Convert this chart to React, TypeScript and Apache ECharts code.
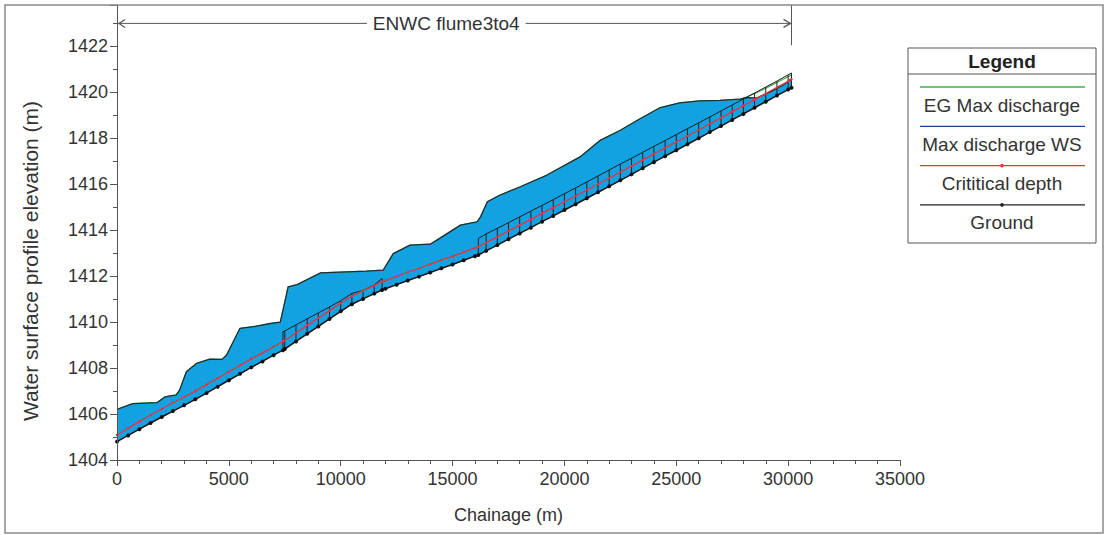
import React, { useEffect, useRef } from "react";
import * as echarts from "echarts";

// ---------- data ----------
const GROUND_X = [
  0, 500, 1000, 1500, 2000, 2500, 3000, 3500, 4000, 4500, 5000, 5500, 6000, 6500, 7000, 7420,
  7500, 8000, 8500, 9000, 9500, 10000, 10500, 11000, 11500, 11850, 12000, 12500, 13000, 13500,
  14000, 14500, 15000, 15500, 16000, 16150, 16500, 17000, 17500, 18000, 18500, 19000, 19500,
  20000, 20500, 21000, 21500, 22000, 22500, 23000, 23500, 24000, 24500, 25000, 25500, 26000,
  26500, 27000, 27500, 28000, 28500, 29000, 29500, 30000, 30150,
];
const GROUND_Y = [
  1404.8, 1405.07, 1405.34, 1405.61, 1405.87, 1406.13, 1406.38, 1406.64, 1406.91, 1407.19,
  1407.47, 1407.75, 1408.03, 1408.29, 1408.56, 1408.78, 1408.83, 1409.16, 1409.49, 1409.81,
  1410.14, 1410.47, 1410.78, 1411.01, 1411.24, 1411.4, 1411.45, 1411.63, 1411.81, 1411.98,
  1412.16, 1412.34, 1412.51, 1412.69, 1412.87, 1412.92, 1413.1, 1413.35, 1413.61, 1413.86,
  1414.11, 1414.37, 1414.62, 1414.88, 1415.13, 1415.39, 1415.65, 1415.91, 1416.17, 1416.43,
  1416.7, 1416.96, 1417.22, 1417.48, 1417.74, 1418.0, 1418.27, 1418.53, 1418.8, 1419.06,
  1419.33, 1419.59, 1419.86, 1420.12, 1420.2,
];
const CRIT_Y = [
  1405.09, 1405.38, 1405.68, 1405.96, 1406.22, 1406.49, 1406.74, 1407.0, 1407.28, 1407.56,
  1407.84, 1408.12, 1408.4, 1408.66, 1408.93, 1409.16, 1409.2, 1409.53, 1409.86, 1410.18,
  1410.5, 1410.83, 1411.13, 1411.37, 1411.6, 1411.76, 1411.81, 1411.99, 1412.17, 1412.34,
  1412.52, 1412.7, 1412.87, 1413.05, 1413.23, 1413.28, 1413.46, 1413.71, 1413.97, 1414.22,
  1414.47, 1414.73, 1414.98, 1415.24, 1415.49, 1415.75, 1416.01, 1416.27, 1416.53, 1416.79,
  1417.06, 1417.32, 1417.58, 1417.84, 1418.1, 1418.36, 1418.63, 1418.89, 1419.16, 1419.42,
  1419.69, 1419.95, 1420.22, 1420.48, 1420.57,
];
const WS_X = [
  0, 700, 1800, 2150, 2650, 2800, 3100, 3550, 4150, 4700, 4900, 5500, 6100, 6850, 7300, 7650,
  8050, 9100, 11150, 11900, 12350, 13100, 14000, 14300, 15350, 16100, 16250, 16550, 17100,
  18000, 19200, 20700, 21600, 22500, 23400, 24250, 25150, 26050, 26950, 27850, 28150, 28600,
  29200, 29800, 30150,
];
const WS_Y = [
  1406.2, 1406.45, 1406.5, 1406.75, 1406.83, 1407.04, 1407.84, 1408.2, 1408.39, 1408.38,
  1408.57, 1409.73, 1409.8, 1409.94, 1410.0, 1411.53, 1411.63, 1412.14, 1412.22, 1412.26,
  1412.98, 1413.35, 1413.39, 1413.57, 1414.22, 1414.36, 1414.58, 1415.23, 1415.52, 1415.88,
  1416.39, 1417.19, 1417.91, 1418.35, 1418.86, 1419.32, 1419.54, 1419.63, 1419.65, 1419.7,
  1419.77, 1419.76, 1420.02, 1420.33, 1420.6,
];
const EG_Y = [
  1406.2, 1406.45, 1406.5, 1406.75, 1406.83, 1407.04, 1407.84, 1408.2, 1408.39, 1408.38,
  1408.57, 1409.73, 1409.8, 1409.94, 1410.0, 1411.53, 1411.63, 1412.14, 1412.22, 1412.26,
  1412.98, 1413.35, 1413.39, 1413.57, 1414.22, 1414.36, 1414.58, 1415.23, 1415.52, 1415.88,
  1416.39, 1417.19, 1417.91, 1418.35, 1418.86, 1419.32, 1419.54, 1419.63, 1419.65, 1419.7,
  1419.8, 1419.98, 1420.28, 1420.58, 1420.76,
];
const FLUME_A_X = [7420, 7500, 8000, 8500, 9000, 9500, 10000, 10500, 11000, 11500, 11850];
const FLUME_A_TOP = [
  1409.58, 1409.62, 1409.88, 1410.14, 1410.4, 1410.66, 1410.93, 1411.25, 1411.38, 1411.62, 1411.9,
];
const FLUME_B_X = [
  16150, 16500, 17000, 17500, 18000, 18500, 19000, 19500, 20000, 20500, 21000, 21500, 22000,
  22500, 23000, 23500, 24000, 24500, 25000, 25500, 26000, 26500, 27000, 27500, 28000, 28500,
  29000, 29500, 30000, 30150,
];
const FLUME_B_TOP = [
  1413.64, 1413.84, 1414.08, 1414.33, 1414.58, 1414.83, 1415.08, 1415.33, 1415.59, 1415.84,
  1416.1, 1416.36, 1416.62, 1416.88, 1417.13, 1417.39, 1417.65, 1417.9, 1418.16, 1418.42,
  1418.67, 1418.93, 1419.19, 1419.45, 1419.71, 1419.97, 1420.23, 1420.49, 1420.76, 1420.84,
];
const REACH_LABEL = "ENWC flume3to4";
const REACH_START = 0;
const REACH_END = 30150;
const REACH_LEVEL = 1423;
const LEGEND_NAMES = ["EG Max discharge", "Max discharge WS", "Crititical depth", "Ground"];
const LEGEND_COLORS = ["#3cb44b", "#1f3f9f", "#e8333a", "#222222"];
const LEGEND_DOT = [false, false, true, true];

const FONT = "'Liberation Sans', Arial, Helvetica, sans-serif";
const TEXT = "#333333";
const AXIS = "#555555";
const WATER = "#12a2e2";

const zip = (xs: number[], ys: (number | null)[]) => xs.map((x, i) => [x, ys[i]]);
const groundAt = (x: number) => GROUND_Y[GROUND_X.indexOf(x)];

export default function App() {
  const ref = useRef<HTMLDivElement>(null);

  useEffect(() => {
    document.body.style.margin = "0";
    const chart = echarts.init(ref.current!, null, { renderer: "svg" });

    const flumeBars = [...zip(FLUME_A_X, FLUME_A_TOP), ...zip(FLUME_B_X, FLUME_B_TOP)].map(
      ([x, top]) => [x as number, groundAt(x as number), top as number]
    );

    chart.setOption({
      animation: false,
      backgroundColor: "#ffffff",
      textStyle: { fontFamily: FONT },
      grid: { left: 117, right: 211, top: 5, bottom: 75, containLabel: false },
      xAxis: {
        type: "value",
        min: 0,
        max: 35000,
        interval: 5000,
        z: 10,
        name: "Chainage (m)",
        nameLocation: "middle",
        nameGap: 46,
        nameTextStyle: { fontSize: 18, color: TEXT, fontFamily: FONT },
        axisLine: { show: true, lineStyle: { color: AXIS, width: 1 } },
        axisTick: { show: true, length: 6, lineStyle: { color: AXIS } },
        minorTick: { show: true, splitNumber: 5, length: 4, lineStyle: { color: AXIS } },
        axisLabel: {
          fontSize: 18,
          color: TEXT,
          margin: 10,
          fontFamily: FONT,
          formatter: (v: number) => String(v),
        },
        splitLine: { show: false },
      },
      yAxis: {
        type: "value",
        min: 1404,
        max: 1423.8,
        interval: 2,
        z: 10,
        axisLine: { show: true, lineStyle: { color: AXIS, width: 1 } },
        axisTick: { show: true, length: 7, lineStyle: { color: AXIS } },
        minorTick: { show: true, splitNumber: 2, length: 4, lineStyle: { color: AXIS } },
        axisLabel: {
          fontSize: 18,
          color: TEXT,
          margin: 9,
          showMaxLabel: false,
          fontFamily: FONT,
          formatter: (v: number) => String(v),
        },
        splitLine: { show: false },
      },
      series: [
        {
          name: "Water fill",
          type: "custom",
          data: [[0, 1404]],
          z: 1,
          silent: true,
          renderItem: (_p: any, api: any) => {
            const top = WS_X.map((x, i) => api.coord([x, WS_Y[i]]));
            const bottom = GROUND_X.map((x, i) => api.coord([x, GROUND_Y[i]])).reverse();
            return {
              type: "polygon",
              shape: { points: [...top, ...bottom] },
              style: { fill: WATER, stroke: "none" },
            };
          },
        },
        {
          name: "EG Max discharge",
          type: "line",
          data: zip(WS_X, EG_Y),
          symbol: "none",
          lineStyle: { color: LEGEND_COLORS[0], width: 1.2 },
          z: 2,
        },
        {
          name: "Max discharge WS",
          type: "line",
          data: zip(WS_X, WS_Y),
          symbol: "none",
          lineStyle: { color: "#1a2e3f", width: 1.3 },
          z: 3,
        },
        {
          name: "Flume A",
          type: "line",
          data: zip(FLUME_A_X, FLUME_A_TOP),
          symbol: "none",
          lineStyle: { color: "#1e1e1e", width: 1 },
          z: 4,
        },
        {
          name: "Flume B",
          type: "line",
          data: zip(FLUME_B_X, FLUME_B_TOP),
          symbol: "none",
          lineStyle: { color: "#1e1e1e", width: 1 },
          z: 4,
        },
        {
          name: "Flume sections",
          type: "custom",
          data: flumeBars,
          encode: { x: 0, y: [1, 2] },
          z: 4,
          renderItem: (_p: any, api: any) => {
            const a = api.coord([api.value(0), api.value(1)]);
            const b = api.coord([api.value(0), api.value(2)]);
            return {
              type: "line",
              shape: { x1: a[0], y1: a[1], x2: b[0], y2: b[1] },
              style: { stroke: "#1e1e1e", lineWidth: 1 },
            };
          },
        },
        {
          name: "Crititical depth",
          type: "line",
          data: zip(GROUND_X, CRIT_Y),
          symbol: "circle",
          symbolSize: 2.5,
          itemStyle: { color: LEGEND_COLORS[2] },
          lineStyle: { color: LEGEND_COLORS[2], width: 1.3 },
          z: 5,
        },
        {
          name: "Ground",
          type: "line",
          data: zip(GROUND_X, GROUND_Y),
          symbol: "circle",
          symbolSize: 4,
          itemStyle: { color: "#111111" },
          lineStyle: { color: "#111111", width: 1.5 },
          z: 6,
        },
      ],
    });

    const px = (x: number, y: number) =>
      chart.convertToPixel({ gridIndex: 0 }, [x, y]) as number[];
    const a0 = px(REACH_START, REACH_LEVEL);
    const a1 = px(REACH_END, REACH_LEVEL);
    const vTop = px(REACH_END, 1423.8);
    const vBot = px(REACH_END, 1422.05);
    const mid = (a0[0] + a1[0]) / 2;

    const lx = 908, ly = 48, lw = 188, lh = 195;
    const cx = lx + lw / 2;
    const legendEls: any[] = [
      { type: "rect", shape: { x: lx, y: ly, width: lw, height: lh }, style: { fill: "#fff", stroke: "#555", lineWidth: 1 } },
      { type: "text", x: cx, y: 61, style: { text: "Legend", font: `bold 19px ${FONT}`, fill: "#222", align: "center", verticalAlign: "middle" } },
      { type: "line", shape: { x1: lx, y1: 74, x2: lx + lw, y2: 74 }, style: { stroke: "#555", lineWidth: 1 } },
    ];
    LEGEND_NAMES.forEach((name, i) => {
      const yl = 87 + i * 39.3;
      const yt = 105 + i * 39;
      legendEls.push({ type: "line", shape: { x1: 920, y1: yl, x2: 1085, y2: yl }, style: { stroke: LEGEND_COLORS[i], lineWidth: 1.3 } });
      if (LEGEND_DOT[i]) legendEls.push({ type: "circle", shape: { cx, cy: yl, r: 1.8 }, style: { fill: LEGEND_COLORS[i] } });
      legendEls.push({ type: "text", x: cx, y: yt, style: { text: name, font: `19px ${FONT}`, fill: TEXT, align: "center", verticalAlign: "middle" } });
    });

    chart.setOption({
      graphic: [
        { type: "rect", shape: { x: 5, y: 5, width: 1098, height: 528 }, style: { fill: "none", stroke: "#8a8a8a", lineWidth: 1.5 }, z: 100 },
        { type: "text", x: 30, y: 261, rotation: Math.PI / 2, style: { text: "Water surface profile elevation (m)", font: `21px ${FONT}`, fill: TEXT, align: "center", verticalAlign: "middle" } },
        { type: "line", shape: { x1: a0[0] + 1, y1: a0[1], x2: a1[0], y2: a1[1] }, style: { stroke: "#555", lineWidth: 1 } },
        { type: "polyline", shape: { points: [[a0[0] + 8, a0[1] - 4], [a0[0] + 2, a0[1]], [a0[0] + 8, a0[1] + 4]] }, style: { stroke: "#555", lineWidth: 1.2, fill: "none" } },
        { type: "polyline", shape: { points: [[a1[0] - 8, a1[1] - 4], [a1[0] - 1, a1[1]], [a1[0] - 8, a1[1] + 4]] }, style: { stroke: "#555", lineWidth: 1.2, fill: "none" } },
        { type: "line", shape: { x1: vTop[0], y1: vTop[1], x2: vBot[0], y2: vBot[1] }, style: { stroke: "#555", lineWidth: 1 } },
        { type: "text", x: mid - 8, y: a0[1], style: { text: REACH_LABEL, font: `19px ${FONT}`, fill: TEXT, align: "center", verticalAlign: "middle", backgroundColor: "#ffffff", padding: [0, 6] } },
        ...legendEls,
      ],
    });

    return () => chart.dispose();
  }, []);

  return <div ref={ref} style={{ width: 1111, height: 535 }} />;
}
